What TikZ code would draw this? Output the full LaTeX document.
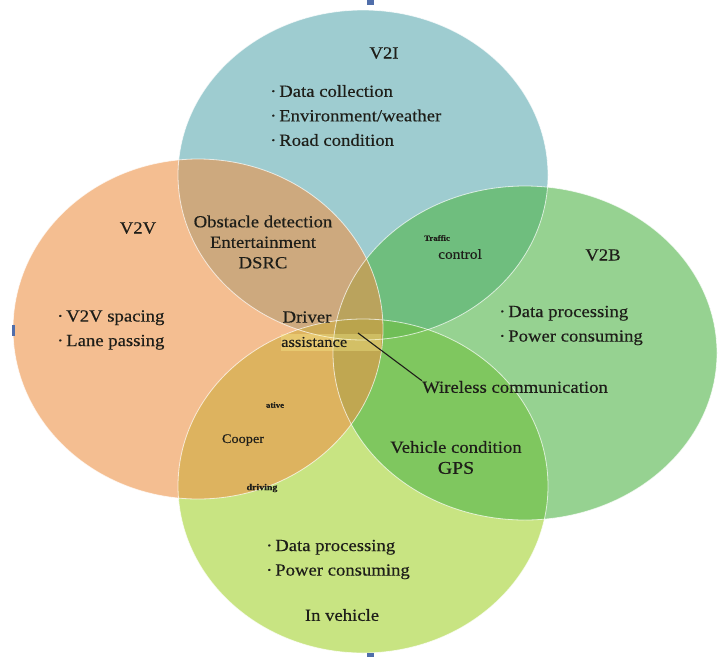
\documentclass[tikz,border=0pt]{standalone}
\usepackage{fontspec}
\setmainfont{Liberation Serif}[FakeStretch=1.1, FakeBold=0.4]
\usepackage{xcolor}
\usepackage{tikz}
\usetikzlibrary{positioning,calc}

\definecolor{vtwoi}{RGB}{93,170,177}
\definecolor{vtwov}{RGB}{237,147,72}
\definecolor{vtwob}{RGB}{80,180,72}
\definecolor{inveh}{RGB}{163,210,47}
\definecolor{ink}{RGB}{30,30,25}
\definecolor{handle}{RGB}{80,110,170}

\begin{document}
\begin{tikzpicture}[
  x=1pt, y=-1pt,
  lbl/.style={inner sep=0pt, text=ink, align=center,
              font=\fontsize{17}{20.5}\selectfont},
  blist/.style={lbl, align=left, font=\fontsize{17}{24.5}\selectfont},
  tinylbl/.style={inner sep=0pt, text=ink,
                  font=\fontsize{8}{9}\selectfont\bfseries},
  setfill/.style={fill=#1, fill opacity=0.6, draw=none},
  rim/.style={draw=white, line width=0.8pt, opacity=0.7}
]
\useasboundingbox (0,0) rectangle (719,657);

%─── Sets ─────────────────────────────────────────────────────────────────
\fill[setfill=vtwoi] (363,175) ellipse [x radius=185pt, y radius=165pt];
\fill[setfill=inveh] (363,486) ellipse [x radius=185pt, y radius=167pt];
\fill[setfill=vtwob] (525,353) ellipse [x radius=192pt, y radius=167pt];
\fill[setfill=vtwov] (198,329) ellipse [x radius=185pt, y radius=170pt];

\draw[rim] (363,175) ellipse [x radius=185pt, y radius=165pt];
\draw[rim] (363,486) ellipse [x radius=185pt, y radius=167pt];
\draw[rim] (525,353) ellipse [x radius=192pt, y radius=167pt];
\draw[rim] (198,329) ellipse [x radius=185pt, y radius=170pt];

% selection handles
\fill[handle] (367,0) rectangle (374,5);
\fill[handle] (12,325) rectangle (15,336);
\fill[handle] (367,653) rectangle (374,657);

%─── V2I ──────────────────────────────────────────────────────────────────
\node[lbl] (v2i) at (384,53) {V2I};
\node[blist, anchor=west] (v2ilist) at (270,115.5)
  {·\,Data collection\\·\,Environment/weather\\·\,Road condition};

%─── V2V ──────────────────────────────────────────────────────────────────
\node[lbl] (v2v) at (138,228) {V2V};
\node[blist, anchor=west] (v2vlist) at (57,330)
  {·\,V2V spacing\\·\,Lane passing};
\node[lbl] (obst) at (263,242) {Obstacle detection\\Entertainment\\DSRC};

% Driver assistance
\node[lbl] (driver) at (307,317) {Driver};
\node[lbl, anchor=west, font=\fontsize{15}{17}\selectfont,
      text width=100pt, align=left, minimum height=17pt,
      fill=yellow!40!white, fill opacity=0.3, text opacity=1]
  (assist) at (281,342) {assistance};

%─── V2B ──────────────────────────────────────────────────────────────────
\node[tinylbl] (traffic) at (437,238) {Traffic};
\node[lbl, font=\fontsize{14}{16}\selectfont] (control) at (460,254) {control};
\node[lbl] (v2b) at (603,255) {V2B};
\node[blist, anchor=west] (v2blist) at (499,325.5)
  {·\,Data processing\\·\,Power consuming};

\node[lbl] (wireless) at (515,387) {Wireless communication};
\coordinate (wstart) at ($(assist.west)+(77,-9)$);
\draw[ink, line width=1.1pt] (wstart) -- (wireless.north west);

\node[lbl, font=\fontsize{17}{21}\selectfont] (vehcond) at (456,457.5)
  {Vehicle condition\\{\fontsize{18}{21}\selectfont GPS}};

%─── In vehicle ───────────────────────────────────────────────────────────
\node[tinylbl] (ative) at (275,405) {ative};
\node[lbl, font=\fontsize{13}{15}\selectfont] (cooper) at (243,440) {Cooper};
\node[tinylbl, font=\fontsize{9}{10}\selectfont\bfseries] (driving)
  at (262,488) {driving};

\node[blist, anchor=west] (invlist) at (266,559.5)
  {·\,Data processing\\·\,Power consuming};
\node[lbl] (invlbl) at (342,615) {In vehicle};

\end{tikzpicture}
\end{document}
